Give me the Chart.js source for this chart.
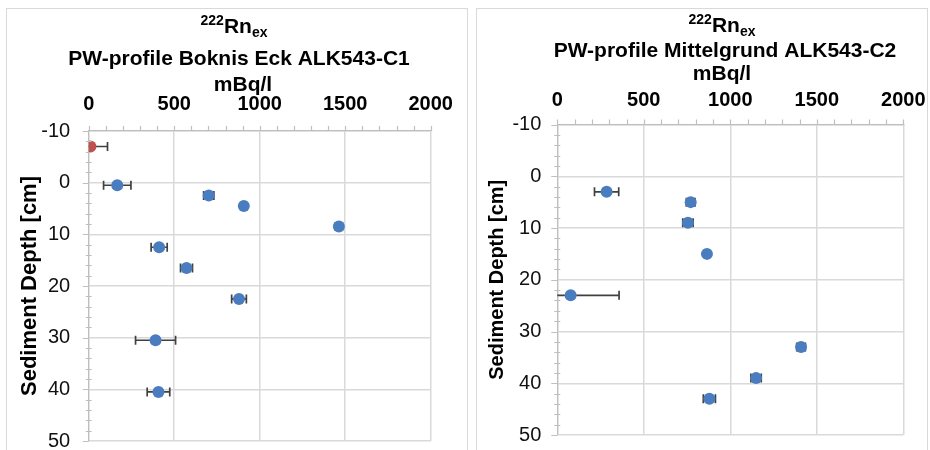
<!DOCTYPE html>
<html>
<head>
<meta charset="utf-8">
<script src="https://cdn.jsdelivr.net/npm/chart.js@4/dist/chart.umd.min.js"></script>
<style>
  body { margin: 0; background: #fff; width: 930px; height: 450px; overflow: hidden; position: relative; }
  .frame { position: absolute; border: 1px solid #d9d9d9; box-sizing: border-box; }
  canvas { position: absolute; }
</style>
</head>
<body>
<div class="frame" style="left:6px;top:8px;width:462px;height:470px"></div>
<div class="frame" style="left:476px;top:8px;width:452px;height:470px"></div>
<canvas id="c1" width="458" height="441" style="left:8px;top:9px"></canvas>
<canvas id="c2" width="453" height="441" style="left:477px;top:9px"></canvas>
<script>
// Porewater 222Rn excess profiles (mBq/l) against sediment depth (cm)

// Boknis Eck, core ALK543-C1
const c1Depth = [0.5, 2.5, 4.5, 8.5, 12.5, 16.5, 22.5, 30.5, 40.5];
const c1Rn    = [167, 702, 907, 1463, 412, 572, 879, 391, 408];
const c1Err   = [80, 30, 15, 20, 47, 35, 43, 117, 66];
// overlying water sample of the same core
const c1WaterDepth = [-7];
const c1WaterRn    = [10];
const c1WaterErr   = [100];

// Mittelgrund, core ALK543-C2
const c2Depth = [3, 5, 9, 15, 23, 33, 39, 43];
const c2Rn    = [285, 771, 755, 865, 77, 1409, 1149, 879];
const c2Err   = [70, 25, 30, 15, 280, 25, 30, 35];

// axis ticks
const rnTicks    = [0, 500, 1000, 1500, 2000];
const depthTicks = [-10, 0, 10, 20, 30, 40, 50];

const FONT = '"Liberation Sans", Arial, Helvetica, sans-serif';
Chart.defaults.font.family = FONT;
Chart.defaults.color = '#000';

const BLUE = '#4a7dc0';
const RED = '#c0504d';
const GRID = '#d9d9d9';
const AXIS = '#bfbfbf';

function points(xs, ys) {
  return xs.map((v, i) => ({ x: v, y: ys[i] }));
}

// horizontal error bars, drawn under the markers and clipped to the plot
const errorBars = {
  id: 'errorBars',
  beforeDatasetsDraw(chart) {
    const { ctx, chartArea: a, scales: { x, y } } = chart;
    ctx.save();
    ctx.beginPath();
    ctx.rect(a.left, a.top, a.right - a.left, a.bottom - a.top);
    ctx.clip();
    ctx.strokeStyle = '#404040';
    ctx.lineWidth = 1.7;
    chart.data.datasets.forEach(ds => {
      ds.data.forEach((p, i) => {
        const e = ds.errX[i];
        const x0 = x.getPixelForValue(p.x - e);
        const x1 = x.getPixelForValue(p.x + e);
        const py = y.getPixelForValue(p.y);
        ctx.beginPath();
        ctx.moveTo(x0, py); ctx.lineTo(x1, py);
        ctx.moveTo(x0, py - 4.5); ctx.lineTo(x0, py + 4.5);
        ctx.moveTo(x1, py - 4.5); ctx.lineTo(x1, py + 4.5);
        ctx.stroke();
      });
    });
    ctx.restore();
  }
};

// minor tick marks on both axis lines
const minorTicks = {
  id: 'minorTicks',
  afterDraw(chart) {
    const { ctx, chartArea: a, scales: { x, y } } = chart;
    ctx.save();
    ctx.strokeStyle = AXIS;
    ctx.lineWidth = 1.2;
    ctx.beginPath();
    for (let v = -10; v <= 50; v += 2) {
      const py = Math.round(y.getPixelForValue(v)) + 0.5;
      if (v % 10 === 0) { ctx.moveTo(a.left - 6, py); ctx.lineTo(a.left, py); }
      else { ctx.moveTo(a.left - 3, py); ctx.lineTo(a.left + 3, py); }
    }
    for (let v = 0; v <= 2000; v += 100) {
      const px = Math.round(x.getPixelForValue(v)) + 0.5;
      ctx.moveTo(px, a.top - 5); ctx.lineTo(px, a.top);
    }
    ctx.stroke();
    ctx.restore();
  }
};

// three-line title, first line 222Rn with superscript mass number and subscript "ex"
const profileTitle = {
  id: 'profileTitle',
  afterDraw(chart, args, o) {
    const ctx = chart.ctx;
    ctx.save();
    ctx.fillStyle = '#000';
    ctx.textBaseline = 'alphabetic';
    ctx.textAlign = 'left';
    const big = 'bold 21px ' + FONT;
    const small = 'bold 14px ' + FONT;
    ctx.font = small; const wSup = ctx.measureText('222').width;
    const wSub = ctx.measureText('ex').width;
    ctx.font = big; const wRn = ctx.measureText('Rn').width;
    let sx = o.cx1 - (wSup + wRn + wSub) / 2;
    ctx.font = small; ctx.fillText('222', sx, o.b1 - 8);
    ctx.font = big; ctx.fillText('Rn', sx + wSup, o.b1);
    ctx.font = small; ctx.fillText('ex', sx + wSup + wRn, o.b1 + 4);
    ctx.textAlign = 'center';
    ctx.font = big;
    ctx.fillText(o.line2, o.cx2, o.b2);
    ctx.fillText('mBq/l', o.cx3, o.b3);
    ctx.restore();
  }
};

function makeChart(id, datasets, L, T) {
  return new Chart(document.getElementById(id), {
    type: 'scatter',
    data: { datasets },
    options: {
      responsive: false,
      animation: false,
      devicePixelRatio: 1,
      layout: { autoPadding: false, padding: { left: 0, top: 0, right: L.right, bottom: L.bottom } },
      plugins: { legend: { display: false }, tooltip: { enabled: false }, profileTitle: T },
      scales: {
        x: {
          type: 'linear', position: 'top', min: 0, max: 2000,
          afterBuildTicks: s => { s.ticks = rnTicks.map(v => ({ value: v })); },
          afterFit: s => { s.height = L.top; s.paddingLeft = 0; s.paddingRight = 0; },
          grid: { color: GRID, lineWidth: 1.5, drawTicks: false },
          border: { color: AXIS, width: 1.2 },
          ticks: {
            font: { size: 20, weight: 'bold' }, color: '#000', padding: L.xPad, maxRotation: 0,
            callback: v => String(v)
          }
        },
        y: {
          type: 'linear', reverse: true, min: -10, max: 50,
          afterBuildTicks: s => { s.ticks = depthTicks.map(v => ({ value: v })); },
          afterFit: s => { s.width = L.left; s.paddingTop = 0; s.paddingBottom = 0; },
          grid: { color: GRID, lineWidth: 1.5, drawTicks: false },
          border: { color: AXIS, width: 1.2 },
          ticks: { font: { size: 20 }, color: '#111', padding: L.yPad, callback: v => String(v) },
          title: {
            display: true, text: 'Sediment Depth [cm]', color: '#000',
            font: { size: L.titleSize, weight: 'bold' }, padding: { top: L.titlePad, bottom: 0 }
          }
        }
      }
    },
    plugins: [errorBars, minorTicks, profileTitle]
  });
}

function series(xs, ys, errs, color) {
  return {
    data: points(xs, ys), errX: errs,
    pointRadius: 6, pointBackgroundColor: color, pointBorderColor: color,
    pointBorderWidth: 0, showLine: false
  };
}

makeChart('c1',
  [series(c1Rn, c1Depth, c1Err, BLUE), series(c1WaterRn, c1WaterDepth, c1WaterErr, RED)],
  { left: 80.7, top: 122, right: 35.3, bottom: 9, xPad: 15, yPad: 18.5, titlePad: 9, titleSize: 22 },
  { cx1: 226, b1: 24, line2: 'PW-profile Boknis Eck ALK543-C1', cx2: 231, b2: 56, cx3: 235, b3: 82 });

makeChart('c2',
  [series(c2Rn, c2Depth, c2Err, BLUE)],
  { left: 80.3, top: 115.5, right: 26.7, bottom: 15, xPad: 12.5, yPad: 16, titlePad: 8, titleSize: 20 },
  { cx1: 245, b1: 23, line2: 'PW-profile Mittelgrund ALK543-C2', cx2: 248, b2: 48, cx3: 245, b3: 71 });
</script>
</body>
</html>
